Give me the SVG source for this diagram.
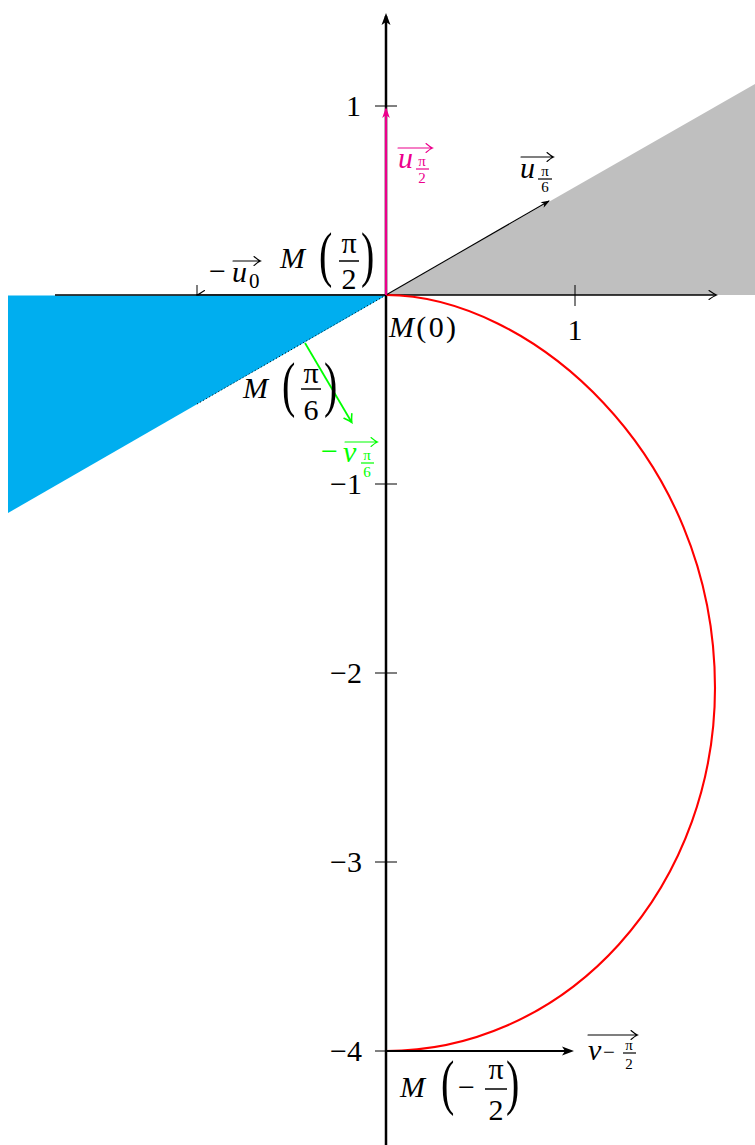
<svg xmlns="http://www.w3.org/2000/svg" width="755" height="1145" viewBox="0 0 755 1145">
<style>
text{font-family:'Liberation Serif','DejaVu Serif',serif}
.t{font-size:30px;fill:#000}
.i{font-style:italic}
.sb{font-size:21px}
.sf{font-size:15px}
.mid{text-anchor:middle}
.end{text-anchor:end}
.par{font-size:40px;fill:#000}
.bar{stroke:#000;stroke-width:1.5}
.ov{fill:none;stroke:#000;stroke-width:1.1;stroke-linecap:round}
.tick{stroke:#000;stroke-width:1}
.mag{fill:#ec008c}
.grn{fill:#00ff00}
</style>
<defs>
<marker id="stk" viewBox="-12 -6 16 12" refX="0" refY="0" markerWidth="16" markerHeight="12" markerUnits="userSpaceOnUse" orient="auto">
<path d="M3,0 L-9,-4.5 L-6,0 L-9,4.5Z" fill="#000"/>
</marker>
<marker id="stkm" viewBox="-12 -6 16 12" refX="0" refY="0" markerWidth="16" markerHeight="12" markerUnits="userSpaceOnUse" orient="auto">
<path d="M2,0 L-9,-3.8 L-6,0 L-9,3.8Z" fill="#ec008c"/>
</marker>
<marker id="stks" viewBox="-12 -6 16 12" refX="0" refY="0" markerWidth="16" markerHeight="12" markerUnits="userSpaceOnUse" orient="auto">
<path d="M1,0 L-8,-3.2 L-5.5,0 L-8,3.2Z" fill="#000"/>
</marker>
<marker id="to" viewBox="-10 -6 12 12" refX="0" refY="0" markerWidth="12" markerHeight="12" markerUnits="userSpaceOnUse" orient="auto">
<path d="M-7,-4.5 Q-2,-1 0.5,0 Q-2,1 -7,4.5" fill="none" stroke="#000" stroke-width="1.1" stroke-linecap="round"/>
</marker>
<marker id="tog" viewBox="-10 -6 12 12" refX="0" refY="0" markerWidth="12" markerHeight="12" markerUnits="userSpaceOnUse" orient="auto">
<path d="M-7,-4.5 Q-2,-1 0.5,0 Q-2,1 -7,4.5" fill="none" stroke="#00ff00" stroke-width="1.6" stroke-linecap="round"/>
</marker>
</defs>

<g id="region-gray">
<polygon points="386,295 755,84 755,295" fill="#bfbfbf"/>
</g>

<g id="axes">
<line class="tick" x1="197" y1="285" x2="197" y2="306"/>
<line class="tick" x1="575" y1="285" x2="575" y2="306"/>
<line class="tick" x1="375" y1="106" x2="397" y2="106"/>
<line class="tick" x1="375" y1="484" x2="397" y2="484"/>
<line class="tick" x1="375" y1="673" x2="397" y2="673"/>
<line class="tick" x1="375" y1="862" x2="397" y2="862"/>
<line class="tick" x1="375" y1="1051" x2="397" y2="1051"/>
</g>

<g id="connectors">
<line id="vec-minus-u0" x1="386" y1="295" x2="197.5" y2="295" stroke="#000" stroke-width="1.1" marker-end="url(#to)"/>
</g>

<g id="region-blue">
<polygon points="8,295.6 386,295.6 8,513" fill="#00aeef"/>
<line x1="386" y1="295" x2="197" y2="404" stroke="#000" stroke-width="1" stroke-dasharray="1 2.5"/>
</g>

<g id="axis-lines">
<line x1="55" y1="295" x2="716" y2="295" stroke="#000" stroke-width="1.4" marker-end="url(#to)"/>
<line x1="386" y1="1145" x2="386" y2="16" stroke="#000" stroke-width="2.5" marker-end="url(#stk)"/>
</g>

<g id="curve">
<path d="M386,295 C527.5,295 715,452 715,688 A329 363 0 0 1 386,1051" fill="none" stroke="#ff0000" stroke-width="2.1"/>
</g>

<g id="vectors">
<line id="vec-u-pi6" x1="386" y1="295" x2="549" y2="201" stroke="#000" stroke-width="1.1" marker-end="url(#stks)"/>
<line id="vec-u-pi2" x1="386" y1="295" x2="386" y2="109" stroke="#ec008c" stroke-width="2.2" marker-end="url(#stkm)"/>
<line id="vec-minus-v-pi6" x1="305" y1="343" x2="351.5" y2="422" stroke="#00ff00" stroke-width="1.8" marker-end="url(#tog)"/>
<line id="vec-v-minus-pi2" x1="386" y1="1051" x2="571" y2="1051" stroke="#000" stroke-width="1.8" marker-end="url(#stk)"/>
</g>

<g id="tick-labels">
<text class="t end" x="361" y="116">1</text>
<text class="t end" x="362" y="494">−1</text>
<text class="t end" x="362" y="683">−2</text>
<text class="t end" x="362" y="872">−3</text>
<text class="t end" x="362" y="1061">−4</text>
<text class="t mid" x="575" y="340">1</text>
</g>

<g id="label-M0">
<text class="t" x="389" y="337" textLength="67"><tspan class="i">M</tspan>(0)</text>
</g>

<g id="label-M-pi2">
<text class="t i" x="280" y="268">M</text>
<text class="par" transform="translate(319,275) scale(1,1.55)">(</text>
<text class="t mid" x="349" y="253">π</text>
<line class="bar" x1="339" y1="261" x2="359" y2="261"/>
<text class="t mid" x="349" y="289">2</text>
<text class="par" transform="translate(361,275) scale(1,1.55)">)</text>
</g>

<g id="label-M-pi6">
<text class="t i" x="243" y="398">M</text>
<text class="par" transform="translate(282,405) scale(1,1.55)">(</text>
<text class="t mid" x="311" y="383">π</text>
<line class="bar" x1="301" y1="389" x2="321" y2="389"/>
<text class="t mid" x="311" y="420">6</text>
<text class="par" transform="translate(324,405) scale(1,1.55)">)</text>
</g>

<g id="label-M-minus-pi2">
<text class="t i" x="400" y="1097">M</text>
<text class="par" transform="translate(441,1103) scale(1,1.55)">(</text>
<text class="t" x="458" y="1097">−</text>
<text class="t mid" x="496" y="1079">π</text>
<line class="bar" x1="485" y1="1089" x2="507" y2="1089"/>
<text class="t mid" x="496" y="1120">2</text>
<text class="par" transform="translate(506,1103) scale(1,1.55)">)</text>
</g>

<g id="label-minus-u0">
<text class="t" x="209" y="281">−</text>
<text class="t i" x="232" y="282">u</text>
<text class="t sb" x="249" y="288">0</text>
<path class="ov" d="M233,261 H260 M254,256.5 Q258,260 260.5,261 Q258,262 254,265.5"/>
</g>

<g id="label-u-pi2">
<text class="t i mag" x="398" y="168">u</text>
<text class="t sf mid mag" x="422" y="166">π</text>
<line x1="416" y1="169" x2="429" y2="169" stroke="#ec008c" stroke-width="1.2"/>
<text class="t sf mid mag" x="422" y="183">2</text>
<path class="ov" style="stroke:#ec008c" d="M398,148 H432 M426,143.5 Q430,147 432.5,148 Q430,149 426,152.5"/>
</g>

<g id="label-u-pi6">
<text class="t i" x="520" y="178">u</text>
<text class="t sf mid" x="545" y="176">π</text>
<line x1="538" y1="179" x2="552" y2="179" stroke="#000" stroke-width="1.2"/>
<text class="t sf mid" x="545" y="192">6</text>
<path class="ov" d="M521,157 H553 M547,152.5 Q551,156 553.5,157 Q551,158 547,161.5"/>
</g>

<g id="label-minus-v-pi6">
<text class="t grn" x="321" y="461">−</text>
<text class="t i grn" x="343" y="462">v</text>
<text class="t sf mid grn" x="367" y="460">π</text>
<line x1="361" y1="463" x2="374" y2="463" stroke="#00ff00" stroke-width="1.2"/>
<text class="t sf mid grn" x="367" y="477">6</text>
<path class="ov" style="stroke:#00ff00" d="M345,442 H377 M371,437.5 Q375,441 377.5,442 Q375,443 371,446.5"/>
</g>

<g id="label-v-minus-pi2">
<text class="t i" x="588" y="1060">v</text>
<text class="t sb" x="603" y="1059">−</text>
<text class="t sf mid" x="629" y="1050">π</text>
<line x1="623" y1="1053" x2="636" y2="1053" stroke="#000" stroke-width="1.2"/>
<text class="t sf mid" x="629" y="1069">2</text>
<path class="ov" d="M588,1035 H637 M631,1030.5 Q635,1034 637.5,1035 Q635,1036 631,1039.5"/>
</g>
</svg>
